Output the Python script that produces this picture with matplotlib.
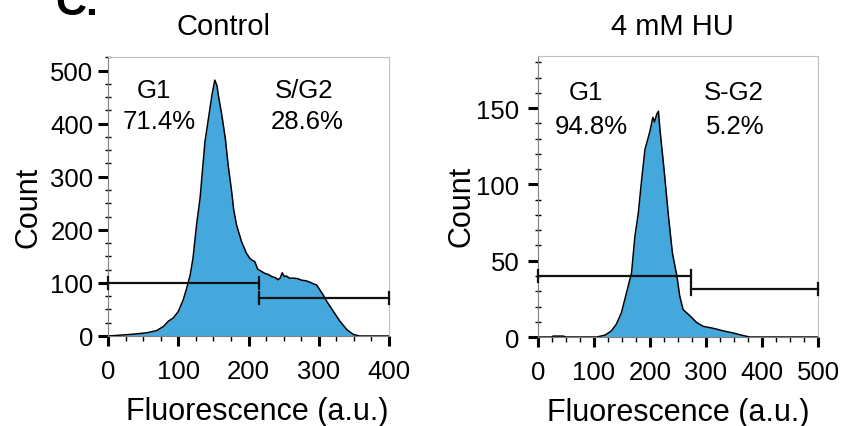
import numpy as np
import matplotlib
matplotlib.use('Agg')
import matplotlib.pyplot as plt
from matplotlib.ticker import MultipleLocator

plt.rcParams['font.family'] = ['Liberation Sans', 'DejaVu Sans']

# Histogramme Control (fluorescence, count)
ctrl_x = [0, 22, 41, 55, 69, 79, 86, 93, 100, 107,
          112, 117, 121, 126, 131, 138, 143, 148, 152, 155,
          157, 162, 167, 171, 176, 179, 183, 190, 197, 202,
          205, 209, 213, 218, 223, 228, 233, 238, 242, 245,
          248, 251, 254, 258, 264, 270, 276, 282, 288, 293,
          297, 301, 306, 311, 321, 330, 340, 349, 358, 400]
ctrl_y = [0, 2, 4, 6, 10, 18, 28, 34, 46, 68,
          90, 115, 147, 209, 259, 366, 410, 454, 482, 472,
          454, 416, 372, 322, 272, 237, 209, 178, 156, 146,
          143, 140, 126, 122, 118, 116, 112, 110, 106, 109,
          119, 112, 113, 109, 109, 108, 105, 104, 101, 98,
          96, 88, 78, 66, 46, 28, 12, 3, 0, 0]

# Histogramme 4 mM HU
hu_x = [0, 24, 27, 45, 50, 105, 120, 131, 140, 149,
        158, 167, 173, 179, 185, 191, 200, 205, 208, 212,
        215, 218, 225, 233, 240, 248, 253, 259, 271, 283,
        295, 313, 331, 349, 367, 378, 500]
hu_y = [0, 0, 0.6, 0.6, 0, 0, 1.3, 4, 8.5, 16,
        29, 42, 66, 81, 103, 123, 135, 144, 141, 146,
        148, 135, 110, 79, 55, 40, 27, 18, 14, 9.6,
        7, 5.7, 4, 2.6, 0.9, 0, 0]

# Gates : (debut, fin, hauteur)
ctrl_gates = [(0, 215, 100), (215, 400, 71)]
hu_gates = [(0, 274, 40), (274, 500, 31.5)]

ctrl_labels = [('G1', '71.4%'), ('S/G2', '28.6%')]
hu_labels = [('G1', '94.8%'), ('S-G2', '5.2%')]

fill_color = '#45a8dc'

fig = plt.figure(figsize=(8.42, 4.27), dpi=100)
ax1 = fig.add_axes([0.1283, 0.2108, 0.3337, 0.6527])
ax2 = fig.add_axes([0.639, 0.2084, 0.3325, 0.6574])


def draw_panel(ax, x, y, xmax, ymax, ymajor, yminor, gates, gate_h,
               labels, label_pos, ypad, xlab_x, ylab_x, ylab_y):
    ax.fill_between(x, y, color=fill_color, lw=0, zorder=1)
    ax.plot(x, y, color='black', lw=1.1, zorder=2)

    # gates avec petites barres verticales aux extremites
    for x0, x1, h in gates:
        ax.plot([x0, x1], [h, h], color='#111111', lw=1.6, zorder=3, clip_on=False)
        for xe in (x0, x1):
            ax.plot([xe, xe], [h - gate_h, h + gate_h], color='#111111',
                    lw=1.6, zorder=3, clip_on=False)

    for (name, pct), (xp, yn, yp) in zip(labels, label_pos):
        ax.text(xp[0], yn, name, fontsize=18.5, ha='center', va='baseline')
        ax.text(xp[1], yp, pct, fontsize=18.5, ha='center', va='baseline')

    ax.set_xlim(0, xmax)
    ax.set_ylim(0, ymax)
    ax.xaxis.set_major_locator(MultipleLocator(100))
    ax.xaxis.set_minor_locator(MultipleLocator(25))
    ax.yaxis.set_major_locator(MultipleLocator(ymajor))
    ax.yaxis.set_minor_locator(MultipleLocator(yminor))

    ax.tick_params(axis='both', which='major', direction='out', length=7.5,
                   width=2.2, color='black', labelsize=18.5)
    ax.tick_params(axis='x', which='major', pad=9)
    ax.tick_params(axis='y', which='major', pad=ypad)
    ax.tick_params(axis='y', which='minor', direction='inout', length=4.5, width=1)
    ax.tick_params(axis='x', which='minor', direction='out', length=3.5, width=1)

    for s in ('left', 'bottom'):
        ax.spines[s].set_color('#808080')
        ax.spines[s].set_linewidth(0.8)
    for s in ('top', 'right'):
        ax.spines[s].set_color('#c0c0c0')
        ax.spines[s].set_linewidth(0.8)

    ax.set_xlabel('Fluorescence (a.u.)', fontsize=22)
    ax.xaxis.set_label_coords(xlab_x, -0.214)
    ax.set_ylabel('Count', fontsize=22)
    ax.yaxis.set_label_coords(ylab_x, ylab_y)


draw_panel(ax1, ctrl_x, ctrl_y, 400, 525, 100, 25, ctrl_gates, 11,
           ctrl_labels, [((66, 73), 451, 391), ((279, 283), 451, 391)],
           3, 0.532, -0.23, 0.465)
draw_panel(ax2, hu_x, hu_y, 500, 184, 50, 10, hu_gates, 4,
           hu_labels, [((85, 96), 156, 134), ((349, 353), 156, 134)],
           6, 0.5, -0.22, 0.47)

fig.text(0.266, 0.918, 'Control', fontsize=21, ha='center', va='baseline')
fig.text(0.798, 0.918, '4 mM HU', fontsize=21, ha='center', va='baseline')
fig.text(55 / 842, 1 - 15 / 427, 'C.', fontsize=31, fontweight='bold', va='baseline')

fig.savefig('out.png', dpi=100)
